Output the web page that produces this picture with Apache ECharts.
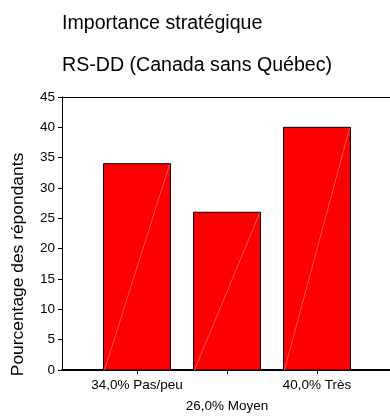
<!DOCTYPE html>
<html>
<head>
<meta charset="utf-8">
<script src="https://cdn.jsdelivr.net/npm/echarts@6/dist/echarts.min.js"></script>
<style>
  html, body { margin: 0; padding: 0; background: #fff; }
  #chart { width: 390px; height: 416px; }
</style>
</head>
<body>
<div id="chart"></div>
<script>
// Strategic importance, share of respondents per answer group
const categories = ['34,0% Pas/peu', '26,0% Moyen', '40,0% Très'];
const percentages = [34, 26, 40];
const yTicks = { min: 0, max: 45, interval: 5 };

const FONT = "'Liberation Sans', Arial, sans-serif";

const chart = echarts.init(document.getElementById('chart'), null, { renderer: 'canvas' });

chart.setOption({
  backgroundColor: '#fff',
  animation: false,
  title: {
    text: 'Importance stratégique\nRS-DD (Canada sans Québec)',
    left: 62,
    top: 2,
    padding: 0,
    textStyle: { fontFamily: FONT, fontSize: 19.6, fontWeight: 'normal', color: '#000', lineHeight: 42.7 }
  },
  grid: [
    // plot frame: left, top and bottom edges; runs past the right edge of the canvas
    { left: 62, top: 97, width: 340, bottom: 46, outerBoundsMode: 'none', show: false },
    // bars
    { left: 92, width: 270, top: 97, bottom: 46, outerBoundsMode: 'none' }
  ],
  xAxis: [
    {
      gridIndex: 0, type: 'value', min: 0, max: 1, position: 'bottom',
      axisLine: { show: true, lineStyle: { color: '#000', width: 2 } },
      axisTick: { show: false }, axisLabel: { show: false }, splitLine: { show: false }
    },
    {
      gridIndex: 1, type: 'category', data: categories, boundaryGap: true,
      axisLine: { show: false },
      axisTick: { show: true, alignWithLabel: true, length: 4, lineStyle: { color: '#000' } },
      axisLabel: {
        interval: 0, margin: 5, color: '#000', fontFamily: FONT, fontSize: 13.5, lineHeight: 21,
        formatter: (v, i) => (i % 2 === 1 ? '\n' + v : v)
      },
      splitLine: { show: false }
    },
    {
      gridIndex: 0, type: 'value', min: 0, max: 1, position: 'top',
      axisLine: { show: true, lineStyle: { color: '#000', width: 1 } },
      axisTick: { show: false }, axisLabel: { show: false }, splitLine: { show: false }
    }
  ],
  yAxis: [
    {
      gridIndex: 0, type: 'value', min: yTicks.min, max: yTicks.max, interval: yTicks.interval,
      name: 'Pourcentage des répondants',
      nameLocation: 'middle', nameGap: 35,
      nameTextStyle: { fontFamily: FONT, fontSize: 17.4, color: '#000', padding: [0, 62, 0, 0] },
      axisLine: { show: true, lineStyle: { color: '#000', width: 1 } },
      axisTick: { show: true, length: 4, lineStyle: { color: '#000' } },
      axisLabel: { margin: 7, color: '#000', fontFamily: FONT, fontSize: 13.5 },
      splitLine: { show: false }
    },
    {
      gridIndex: 1, type: 'value', min: yTicks.min, max: yTicks.max, interval: yTicks.interval, show: false
    }
  ],
  series: [{
    type: 'custom',
    xAxisIndex: 1,
    yAxisIndex: 1,
    data: percentages.map((v, i) => [i, v]),
    encode: { x: 0, y: 1 },
    renderItem: function (params, api) {
      const top = api.coord([api.value(0), api.value(1)]);
      const base = api.coord([api.value(0), 0]);
      const w = api.size([1, 0])[0] * 0.745;
      const x0 = top[0] - w / 2;
      return {
        type: 'group',
        children: [
          {
            type: 'rect',
            shape: { x: x0, y: top[1], width: w, height: base[1] - top[1] },
            style: { fill: '#ff0000', stroke: '#000', lineWidth: 1 }
          },
          {
            type: 'line',
            shape: { x1: x0 + 1, y1: base[1], x2: x0 + w - 1, y2: top[1] + 1 },
            style: { stroke: 'rgba(255,175,175,0.85)', lineWidth: 0.6 }
          }
        ]
      };
    }
  }]
});
</script>
</body>
</html>
